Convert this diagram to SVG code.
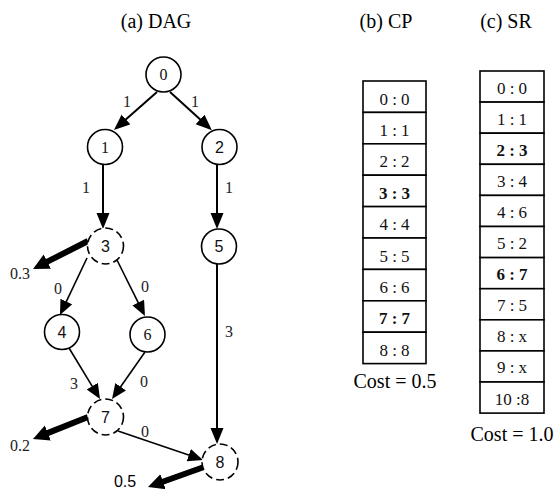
<svg xmlns="http://www.w3.org/2000/svg" width="559" height="489" viewBox="0 0 559 489">
<style>
.node{fill:#fff;stroke:#000;stroke-width:1.6}
.dash{stroke-dasharray:8 4}
.nls{font-family:"Liberation Sans",Arial,sans-serif;font-size:16px;text-anchor:middle;fill:#111}
.nlt{font-family:"Liberation Serif","Times New Roman",serif;font-size:16px;text-anchor:middle;fill:#111}
.edge{fill:none;stroke:#000;stroke-width:2}
.edge2{fill:none;stroke:#000;stroke-width:1.6}
.thick{fill:none;stroke:#000;stroke-width:6}
.el{font-family:"Liberation Serif","Times New Roman",serif;font-size:16px;text-anchor:middle;fill:#222}
.title{font-family:"Liberation Serif","Times New Roman",serif;font-size:20px;text-anchor:middle;fill:#000}
.cell{fill:#fff;stroke:#000;stroke-width:1.6}
.ct{font-family:"Liberation Serif","Times New Roman",serif;font-size:17px;text-anchor:middle;fill:#111}
.b{font-weight:bold}
</style>
<defs>
<marker id="big" markerUnits="userSpaceOnUse" markerWidth="16" markerHeight="14" refX="1" refY="6.5" orient="auto"><path d="M0,0 L16,6.5 L0,13 z" fill="#000"/></marker>
<marker id="small" markerUnits="userSpaceOnUse" markerWidth="15" markerHeight="14" refX="3" refY="6.5" orient="auto"><path d="M0,0 L15,6.5 L0,13 z" fill="#000"/></marker>
<marker id="fat" markerUnits="userSpaceOnUse" markerWidth="16" markerHeight="17" refX="1" refY="8" orient="auto"><path d="M0,0 L16,8 L0,16 z" fill="#000"/></marker>
</defs>
<text class="title" x="156" y="28">(a) DAG</text>
<text class="title" x="386" y="28">(b) CP</text>
<text class="title" x="506" y="28">(c) SR</text>
<g id="connectors">
<line class="edge" x1="157" y1="92" x2="125.2" y2="120.1" marker-end="url(#big)"/>
<line class="edge" x1="170" y1="92" x2="200.8" y2="120.1" marker-end="url(#big)"/>
<line class="edge" x1="103" y1="164" x2="103" y2="214" marker-end="url(#big)"/>
<line class="edge" x1="217" y1="164" x2="217" y2="214" marker-end="url(#big)"/>
<line class="edge" x1="217" y1="264" x2="217" y2="429" marker-end="url(#big)"/>
<line class="edge2" x1="87" y1="258" x2="65.1" y2="304.2" marker-end="url(#small)"/>
<line class="edge2" x1="117" y1="260" x2="139.6" y2="305.3" marker-end="url(#small)"/>
<line class="edge2" x1="69" y1="348" x2="93.8" y2="388.8" marker-end="url(#small)"/>
<line class="edge2" x1="145" y1="352" x2="118.9" y2="389.2" marker-end="url(#small)"/>
<line class="edge2" x1="118" y1="431" x2="191.6" y2="456.1" marker-end="url(#small)"/>
<line class="thick" x1="88" y1="241" x2="46.4" y2="262.2" marker-end="url(#fat)"/>
<line class="thick" x1="88" y1="417" x2="46.9" y2="433.4" marker-end="url(#fat)"/>
<line class="thick" x1="204" y1="467" x2="162.1" y2="482" marker-end="url(#fat)"/>
<text class="el" x="127" y="107">1</text>
<text class="el" x="195" y="107">1</text>
<text class="el" x="86" y="193">1</text>
<text class="el" x="229" y="193">1</text>
<text class="el" x="20" y="279">0.3</text>
<text class="el" x="58" y="294">0</text>
<text class="el" x="145" y="292">0</text>
<text class="el" x="229" y="337">3</text>
<text class="el" x="74" y="389">3</text>
<text class="el" x="144" y="387">0</text>
<text class="el" x="20" y="451">0.2</text>
<text class="el" x="145" y="437">0</text>
<text class="nls" x="125" y="487" style="fill:#000">0.5</text>
</g>
<g id="n0"><circle class="node" cx="163.5" cy="74.5" r="17.5"/><text class="nlt" x="163.5" y="80">0</text></g>
<g id="n1"><circle class="node" cx="105" cy="147" r="17.5"/><text class="nlt" x="105" y="152.5">1</text></g>
<g id="n2"><circle class="node" cx="219.5" cy="147" r="17.5"/><text class="nls" x="219.5" y="152.5">2</text></g>
<g id="n3"><circle class="node dash" cx="105.5" cy="246" r="18"/><text class="nls" x="105.5" y="251.5">3</text></g>
<g id="n5"><circle class="node" cx="219" cy="246.5" r="17.5"/><text class="nls" x="219" y="252">5</text></g>
<g id="n4"><circle class="node" cx="62" cy="332" r="17.5"/><text class="nls" x="62" y="337.5">4</text></g>
<g id="n6"><circle class="node" cx="147.5" cy="334.5" r="17.5"/><text class="nlt" x="147.5" y="340">6</text></g>
<g id="n7"><circle class="node dash" cx="105.5" cy="417" r="18"/><text class="nls" x="105.5" y="422.5">7</text></g>
<g id="n8"><circle class="node dash" cx="220" cy="462" r="18"/><text class="nls" x="220" y="467.5">8</text></g>
<g id="cp">
<rect class="cell" x="363" y="81" width="63" height="31.4"/><text class="ct" x="394.5" y="104.5">0 : 0</text>
<rect class="cell" x="363" y="112.4" width="63" height="31.4"/><text class="ct" x="394.5" y="135.9">1 : 1</text>
<rect class="cell" x="363" y="143.8" width="63" height="31.4"/><text class="ct" x="394.5" y="167.3">2 : 2</text>
<rect class="cell" x="363" y="175.2" width="63" height="31.4"/><text class="ct b" x="394.5" y="198.7">3 : 3</text>
<rect class="cell" x="363" y="206.6" width="63" height="31.4"/><text class="ct" x="394.5" y="230.1">4 : 4</text>
<rect class="cell" x="363" y="238" width="63" height="31.4"/><text class="ct" x="394.5" y="261.5">5 : 5</text>
<rect class="cell" x="363" y="269.4" width="63" height="31.4"/><text class="ct" x="394.5" y="292.9">6 : 6</text>
<rect class="cell" x="363" y="300.8" width="63" height="31.4"/><text class="ct b" x="394.5" y="324.3">7 : 7</text>
<rect class="cell" x="363" y="332.2" width="63" height="31.4"/><text class="ct" x="394.5" y="355.7">8 : 8</text>
<text class="title" x="395" y="388">Cost = 0.5</text>
</g>
<g id="sr">
<rect class="cell" x="480" y="71" width="64" height="31.1"/><text class="ct" x="512" y="93.5">0 : 0</text>
<rect class="cell" x="480" y="102.1" width="64" height="31.1"/><text class="ct" x="512" y="124.6">1 : 1</text>
<rect class="cell" x="480" y="133.2" width="64" height="31.1"/><text class="ct b" x="512" y="155.7">2 : 3</text>
<rect class="cell" x="480" y="164.3" width="64" height="31.1"/><text class="ct" x="512" y="186.8">3 : 4</text>
<rect class="cell" x="480" y="195.4" width="64" height="31.1"/><text class="ct" x="512" y="217.9">4 : 6</text>
<rect class="cell" x="480" y="226.5" width="64" height="31.1"/><text class="ct" x="512" y="249">5 : 2</text>
<rect class="cell" x="480" y="257.6" width="64" height="31.1"/><text class="ct b" x="512" y="280.1">6 : 7</text>
<rect class="cell" x="480" y="288.7" width="64" height="31.1"/><text class="ct" x="512" y="311.2">7 : 5</text>
<rect class="cell" x="480" y="319.8" width="64" height="31.1"/><text class="ct" x="512" y="342.3">8 : x</text>
<rect class="cell" x="480" y="350.9" width="64" height="31.1"/><text class="ct" x="512" y="373.4">9 : x</text>
<rect class="cell" x="480" y="382" width="64" height="31.1"/><text class="ct" x="512" y="404.5">10 :8</text>
<text class="title" x="512" y="441">Cost = 1.0</text>
</g>
</svg>
